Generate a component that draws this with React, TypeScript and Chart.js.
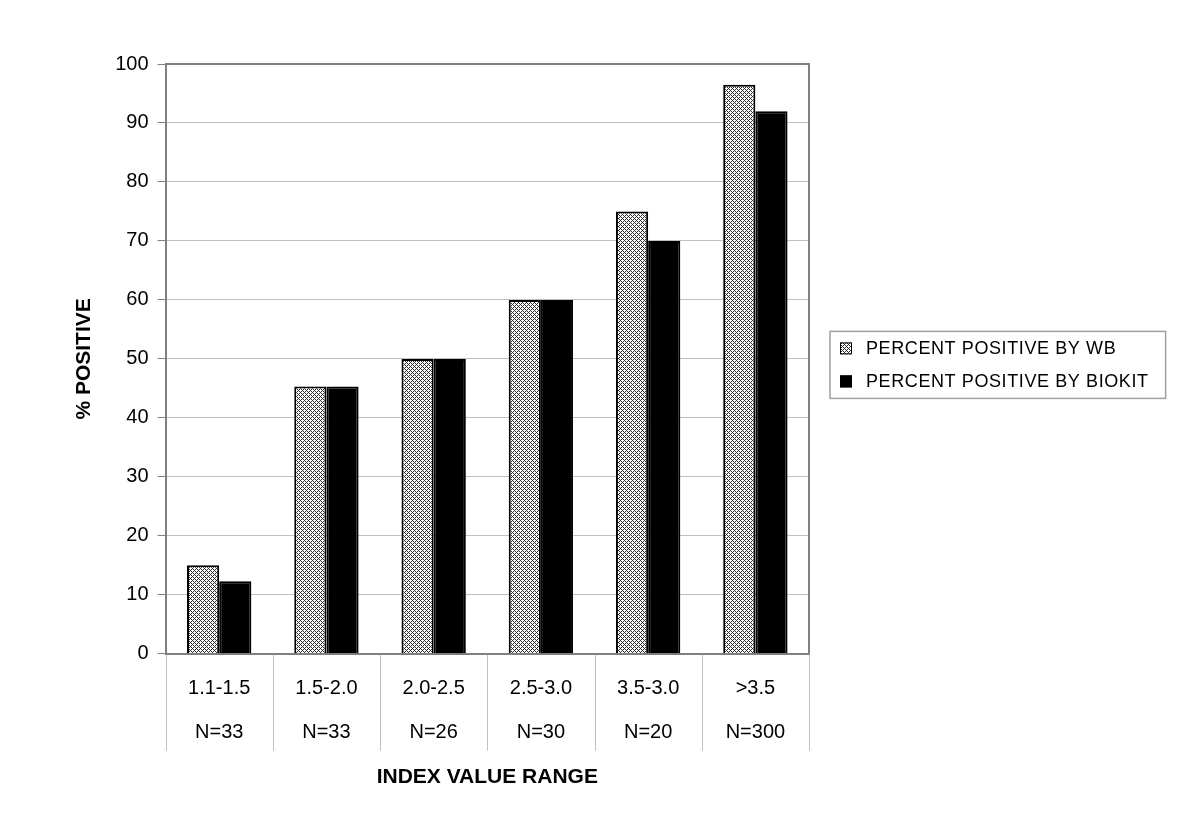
import React, { useEffect, useRef } from 'react';
import { Chart, registerables } from 'chart.js';

Chart.register(...registerables);

const rangeLabels = ['1.1-1.5', '1.5-2.0', '2.0-2.5', '2.5-3.0', '3.5-3.0', '>3.5'];
const countLabels = ['N=33', 'N=33', 'N=26', 'N=30', 'N=20', 'N=300'];
const wbValues = [15, 45.3, 50, 60, 75, 96.5];
const biokitValues = [12.3, 45.3, 50, 60, 70, 92];
const seriesNames = ['PERCENT POSITIVE BY WB', 'PERCENT POSITIVE BY BIOKIT'];
const yAxisTitle = '% POSITIVE';
const xAxisTitle = 'INDEX VALUE RANGE';
const yMin = 0;
const yMax = 100;
const yStep = 10;

const FONT = '"Liberation Sans", Arial, sans-serif';

function makePattern(): CanvasPattern | string {
  const c = document.createElement('canvas');
  c.width = 4;
  c.height = 4;
  const g = c.getContext('2d');
  if (!g) return '#999';
  g.fillStyle = '#ffffff';
  g.fillRect(0, 0, 4, 4);
  g.fillStyle = '#2a2a2a';
  for (let x = 0; x < 4; x++) {
    for (let y = 0; y < 4; y++) {
      if ((x + y) % 4 === 0 || (x - y + 8) % 4 === 0) g.fillRect(x, y, 1, 1);
    }
  }
  const p = g.createPattern(c, 'repeat');
  return p || '#999';
}

const decorations = {
  id: 'decorations',
  afterDraw(chart: any) {
    const ctx = chart.ctx;
    const a = chart.chartArea;
    ctx.save();
    // plot frame top + right
    ctx.strokeStyle = '#808080';
    ctx.lineWidth = 2;
    ctx.beginPath();
    ctx.moveTo(a.left, a.top);
    ctx.lineTo(a.right, a.top);
    ctx.lineTo(a.right, a.bottom);
    ctx.stroke();

    // category separators below the axis
    const xs = chart.scales.x;
    const n = xs.ticks.length;
    const bottom = a.bottom + 97;
    ctx.strokeStyle = '#c0c0c0';
    ctx.lineWidth = 1;
    for (let i = 0; i <= n; i++) {
      const px = Math.round(xs.left + (i * xs.width) / n) + 0.5;
      ctx.beginPath();
      ctx.moveTo(px, a.bottom + 1);
      ctx.lineTo(px, bottom);
      ctx.stroke();
    }

    // legend
    const ds = chart.data.datasets;
    ctx.font = `18px ${FONT}`;
    try { (ctx as any).letterSpacing = '0.6px'; } catch (e) { /* ignore */ }
    const textW = Math.max(...ds.map((d: any) => ctx.measureText(d.label).width));
    const box = 12, gap = 14, rowH = 33, padL = 10, padR = 17;
    const left = a.right + 21;
    const width = padL + box + gap + textW + padR;
    const height = rowH * ds.length + 1;
    const cy = (a.top + a.bottom) / 2 + 6;
    const top = cy - height / 2;
    ctx.strokeStyle = '#a0a0a0';
    ctx.lineWidth = 1.5;
    ctx.strokeRect(left, top, width, height);
    ds.forEach((d: any, i: number) => {
      const ry = top + 17 + i * rowH;
      ctx.fillStyle = d.backgroundColor;
      ctx.fillRect(left + padL, ry - 6, box, box);
      ctx.strokeStyle = '#000000';
      ctx.lineWidth = 1;
      ctx.strokeRect(left + padL + 0.5, ry - 5.5, box - 1, box - 1);
      ctx.fillStyle = '#000000';
      ctx.textBaseline = 'middle';
      ctx.textAlign = 'left';
      ctx.fillText(d.label, left + padL + box + gap, ry + 1);
    });
    try { (ctx as any).letterSpacing = '0px'; } catch (e) { /* ignore */ }
    ctx.restore();
  },
};

export default function App() {
  const ref = useRef<HTMLCanvasElement | null>(null);

  useEffect(() => {
    if (!ref.current) return;
    const pattern = makePattern();
    const chart = new Chart(ref.current, {
      type: 'bar',
      data: {
        labels: rangeLabels,
        datasets: [
          {
            label: seriesNames[0],
            data: wbValues,
            backgroundColor: pattern as any,
            borderColor: '#000000',
            borderWidth: 2,
            categoryPercentage: 0.6,
            barPercentage: 1.0,
          },
          {
            label: seriesNames[1],
            data: biokitValues,
            backgroundColor: '#000000',
            borderColor: '#000000',
            borderWidth: 2,
            categoryPercentage: 0.6,
            barPercentage: 1.0,
          },
        ],
      },
      options: {
        responsive: false,
        animation: false,
        devicePixelRatio: 1,
        layout: { padding: { left: 68, top: 64, right: 391, bottom: 45 } },
        plugins: {
          tooltip: { enabled: false },
          title: { display: false },
          legend: { display: false },
        },
        scales: {
          x: {
            offset: true,
            grid: { display: false, drawTicks: false },
            border: { color: '#808080', width: 2 },
            ticks: {
              color: '#000000',
              padding: 23,
              maxRotation: 0,
              autoSkip: false,
              font: { family: FONT, size: 20 },
            },
          },
          x2: {
            type: 'category',
            position: 'bottom',
            labels: countLabels,
            offset: true,
            grid: { display: false, drawTicks: false },
            border: { display: false },
            ticks: {
              color: '#000000',
              padding: -3,
              maxRotation: 0,
              autoSkip: false,
              font: { family: FONT, size: 20 },
            },
            title: {
              display: true,
              text: xAxisTitle,
              color: '#000000',
              font: { family: FONT, size: 21, weight: 'bold' },
              padding: { top: 23, bottom: 4 },
            },
          },
          y: {
            min: yMin,
            max: yMax,
            grid: {
              color: '#c0c0c0',
              lineWidth: 1,
              tickLength: 8,
              tickColor: '#808080',
            },
            border: { color: '#808080', width: 2 },
            ticks: {
              stepSize: yStep,
              padding: 9,
              color: '#000000',
              font: { family: FONT, size: 20 },
            },
            title: {
              display: true,
              text: yAxisTitle,
              color: '#000000',
              font: { family: FONT, size: 21, weight: 'bold' },
              padding: { top: 4, bottom: 9 },
            },
          },
        },
      },
      plugins: [decorations],
    });
    return () => chart.destroy();
  }, []);

  return (
    <div style={{ position: 'absolute', left: 0, top: 0, width: 1200, height: 839, background: '#ffffff' }}>
      <canvas ref={ref} width={1200} height={839} style={{ display: 'block' }} />
    </div>
  );
}
